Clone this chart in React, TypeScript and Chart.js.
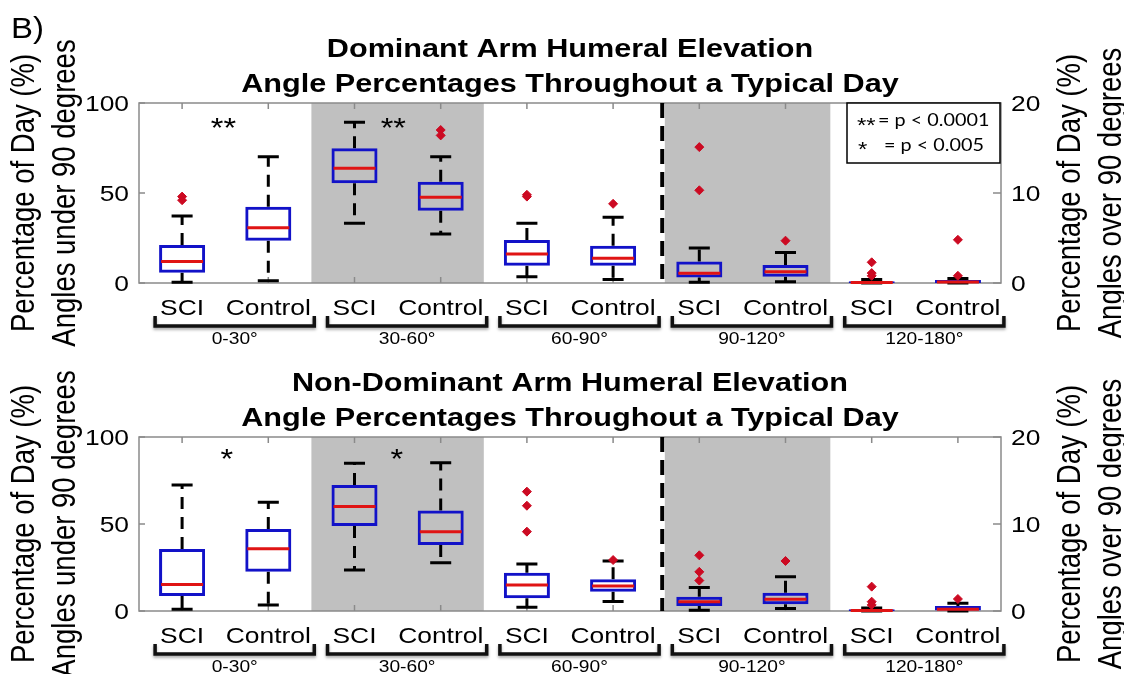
import React, { useEffect, useRef } from 'react';
import { Chart, registerables } from 'chart.js';

Chart.register(...registerables);

// ---------------- data ----------------
const groupLabels = ['0-30°', '30-60°', '60-90°', '90-120°', '120-180°'];
const boxLabels = ['SCI', 'Control', 'SCI', 'Control', 'SCI', 'Control', 'SCI', 'Control', 'SCI', 'Control'];
const leftTicks = [0, 50, 100];
const rightTicks = [0, 10, 20];
const RIGHT_START = 6; // boxes from this index use the right axis (angles over 90 degrees)

// Dominant arm (left axis 0-100 for idx 0-5, right axis 0-20 for idx 6-9)
const domLow = [0.4, 1.3, 33.2, 27.2, 3.5, 2.0, 0.07, 0.15, 0.0, 0.0];
const domQ1 = [5.7, 23.5, 55.4, 40.2, 9.6, 9.6, 0.6, 0.7, 0.0, 0.0];
const domMed = [11.9, 30.7, 63.7, 47.6, 16.1, 13.7, 1.07, 1.26, 0.05, 0.1];
const domQ3 = [21.1, 42.4, 74.8, 56.3, 23.9, 20.7, 2.4, 2.0, 0.2, 0.33];
const domHigh = [37.2, 70.2, 89.3, 70.2, 33.2, 36.5, 3.9, 3.4, 0.4, 0.5];
const domOutliers = [[48, 46], [], [], [85, 82], [49, 48], [44], [15.1, 10.3], [4.7], [2.3, 1.1, 0.8], [4.8, 0.8]];
const domSig = [{ x: 0.48, y: 89.4, t: '**' }, { x: 2.45, y: 89.4, t: '**' }];
const domTitle = ['Dominant Arm Humeral Elevation', 'Angle Percentages Throughout a Typical Day'];

// Non-dominant arm
const ndLow = [1.0, 3.4, 23.6, 27.8, 2.1, 5.4, 0.1, 0.3, 0.0, 0.0];
const ndQ1 = [8.6, 22.6, 48.9, 37.9, 7.3, 11.1, 0.57, 0.77, 0.0, 0.05];
const ndMed = [15.3, 35.8, 60.0, 45.6, 14.9, 14.4, 1.07, 1.34, 0.05, 0.2];
const ndQ3 = [35.6, 47.1, 72.4, 57.7, 22.0, 18.2, 1.65, 2.1, 0.2, 0.57];
const ndHigh = [72.4, 62.5, 84.9, 85.2, 27.0, 28.7, 2.7, 3.95, 0.35, 0.88];
const ndOutliers = [[], [], [], [], [68.6, 60.5, 45.6], [29.3], [6.4, 4.5, 3.5], [5.75], [2.8, 1.07, 0.7], [1.38]];
const ndSig = [{ x: 0.52, y: 90.8, t: '*' }, { x: 2.49, y: 90.8, t: '*' }];
const ndTitle = ['Non-Dominant Arm Humeral Elevation', 'Angle Percentages Throughout a Typical Day'];

const shadeBands = [[1.5, 3.5], [5.6, 7.52]];
const separatorAt = 5.57;
const legendLines = [['**', '= p < 0.0001'], ['*', '= p < 0.005']];
const leftTitle = ['Percentage of Day (%)', 'Angles under 90 degrees'];
const rightTitle = ['Percentage of Day (%)', 'Angles over 90 degrees'];

// ---------------- styles ----------------
const FONT = '"Liberation Sans", Arial, Helvetica, sans-serif';
const LEGEND_FONT = 'Lato, "Open Sans", sans-serif';
const SX = 1.2;
const BOX_BLUE = '#1212c8';
const MED_RED = '#e01414';
const OUT_RED = '#cc0a22';
const SHADE = '#c0c0c0';
const AXIS_GRAY = '#8a8a8a';

function drawText(ctx: CanvasRenderingContext2D, s: string, x: number, y: number, font: string,
  align: CanvasTextAlign = 'center', rot = 0, sx = SX, color = '#000') {
  ctx.save();
  ctx.translate(x, y);
  ctx.scale(sx, 1);
  if (rot) ctx.rotate(rot);
  ctx.font = font;
  ctx.fillStyle = color;
  ctx.textAlign = align;
  ctx.textBaseline = 'alphabetic';
  ctx.fillText(s, 0, 0);
  ctx.restore();
}

type PanelProps = {
  title: string[];
  low: number[]; q1: number[]; med: number[]; q3: number[]; high: number[];
  outliers: number[][];
  sig: { x: number; y: number; t: string }[];
  top: number; height: number; padTop: number; padBottom: number;
  legend: boolean; showB: boolean;
};

function Panel(props: PanelProps) {
  const ref = useRef<HTMLCanvasElement>(null);
  useEffect(() => {
    const { title, low, q1, med, q3, high, outliers, sig, padTop, padBottom, legend, showB } = props;
    const scaleLabels = boxLabels.map((l, i) => groupLabels[Math.floor(i / 2)] + ' ' + l);
    const leftBox = q1.map((v, i) => (i < RIGHT_START ? [v, q3[i]] : null));
    const rightBox = q1.map((v, i) => (i >= RIGHT_START ? [v, q3[i]] : null));
    const leftOut: { x: string; y: number }[] = [];
    const rightOut: { x: string; y: number }[] = [];
    outliers.forEach((arr, i) => arr.forEach((v) => (i < RIGHT_START ? leftOut : rightOut).push({ x: scaleLabels[i], y: v })));

    const outStyle = {
      type: 'scatter' as const,
      pointStyle: 'rectRot',
      radius: 4.5,
      backgroundColor: OUT_RED,
      borderColor: OUT_RED,
      borderWidth: 1,
      clip: false as any,
      showLine: false,
    };
    const boxStyle = {
      type: 'bar' as const,
      borderColor: BOX_BLUE,
      borderWidth: 3,
      backgroundColor: 'rgba(0,0,0,0)',
      borderSkipped: false as any,
      grouped: false,
      barPercentage: 0.534,
      categoryPercentage: 1,
    };

    const decor = {
      id: 'boxDecor',
      beforeDatasetsDraw(chart: any) {
        const { ctx, chartArea: a, scales } = chart;
        const x = scales.x, yL = scales.y, yR = scales.y2;
        const catW = x.getPixelForValue(1) - x.getPixelForValue(0);
        ctx.save();
        // shaded bands
        ctx.fillStyle = SHADE;
        shadeBands.forEach(([s, e]) => {
          const x0 = x.getPixelForValue(s), x1 = x.getPixelForValue(e);
          ctx.fillRect(x0, a.top, x1 - x0, a.bottom - a.top);
        });
        // axes box + ticks
        ctx.strokeStyle = AXIS_GRAY;
        ctx.lineWidth = 1.5;
        ctx.strokeRect(a.left, a.top, a.right - a.left, a.bottom - a.top);
        ctx.beginPath();
        for (let i = 0; i < boxLabels.length; i++) {
          const px = x.getPixelForValue(i);
          ctx.moveTo(px, a.top); ctx.lineTo(px, a.top + 6);
          ctx.moveTo(px, a.bottom); ctx.lineTo(px, a.bottom - 6);
        }
        leftTicks.forEach((v) => { const py = yL.getPixelForValue(v); ctx.moveTo(a.left, py); ctx.lineTo(a.left + 6, py); });
        rightTicks.forEach((v) => { const py = yR.getPixelForValue(v); ctx.moveTo(a.right, py); ctx.lineTo(a.right - 8, py); });
        ctx.stroke();
        // dashed separator
        const sx = x.getPixelForValue(separatorAt);
        ctx.strokeStyle = '#000';
        ctx.lineWidth = 4;
        ctx.setLineDash([15, 8]);
        ctx.beginPath(); ctx.moveTo(sx, a.top); ctx.lineTo(sx, a.bottom); ctx.stroke();
        // whiskers
        ctx.lineWidth = 3;
        ctx.setLineDash([12, 8]);
        for (let i = 0; i < boxLabels.length; i++) {
          const ys = i < RIGHT_START ? yL : yR;
          const cx = x.getPixelForValue(i);
          ctx.beginPath();
          ctx.moveTo(cx, ys.getPixelForValue(q3[i])); ctx.lineTo(cx, ys.getPixelForValue(high[i]));
          ctx.moveTo(cx, ys.getPixelForValue(q1[i])); ctx.lineTo(cx, ys.getPixelForValue(low[i]));
          ctx.stroke();
        }
        ctx.setLineDash([]);
        const capHalf = catW * 0.122;
        ctx.beginPath();
        for (let i = 0; i < boxLabels.length; i++) {
          const ys = i < RIGHT_START ? yL : yR;
          const cx = x.getPixelForValue(i);
          const yh = ys.getPixelForValue(high[i]);
          const yl = ys.getPixelForValue(low[i]);
          ctx.moveTo(cx - capHalf, yh); ctx.lineTo(cx + capHalf, yh);
          ctx.moveTo(cx - capHalf, yl); ctx.lineTo(cx + capHalf, yl);
        }
        ctx.stroke();
        ctx.restore();
      },
      afterDatasetsDraw(chart: any) {
        const { ctx, scales } = chart;
        const x = scales.x, yL = scales.y, yR = scales.y2;
        const catW = x.getPixelForValue(1) - x.getPixelForValue(0);
        const half = catW * 0.534 / 2 - 2;
        ctx.save();
        ctx.strokeStyle = MED_RED;
        ctx.lineWidth = 3;
        ctx.beginPath();
        for (let i = 0; i < boxLabels.length; i++) {
          const ys = i < RIGHT_START ? yL : yR;
          const cx = x.getPixelForValue(i);
          const ym = ys.getPixelForValue(med[i]);
          ctx.moveTo(cx - half, ym); ctx.lineTo(cx + half, ym);
        }
        ctx.stroke();
        ctx.restore();
      },
      afterDraw(chart: any) {
        const { ctx, chartArea: a, scales } = chart;
        const x = scales.x, yL = scales.y, yR = scales.y2;
        const cxMid = (a.left + a.right) / 2;
        const cyMid = (a.top + a.bottom) / 2;
        ctx.save();
        // titles
        drawText(ctx, title[0], cxMid, a.top - 46, `bold 25.5px ${FONT}`);
        drawText(ctx, title[1], cxMid, a.top - 11, `bold 25.5px ${FONT}`);
        // tick labels
        leftTicks.forEach((v) => drawText(ctx, String(v), a.left - 10, yL.getPixelForValue(v) + 8, `22px ${FONT}`, 'right'));
        rightTicks.forEach((v) => drawText(ctx, String(v), a.right + 10, yR.getPixelForValue(v) + 8, `22px ${FONT}`, 'left'));
        // axis titles
        drawText(ctx, leftTitle[0], 34, cyMid, `27.5px ${FONT}`, 'center', -Math.PI / 2);
        drawText(ctx, leftTitle[1], 75, cyMid, `27.5px ${FONT}`, 'center', -Math.PI / 2);
        drawText(ctx, rightTitle[0], 1080, cyMid, `27.5px ${FONT}`, 'center', -Math.PI / 2);
        drawText(ctx, rightTitle[1], 1121, cyMid, `27.5px ${FONT}`, 'center', -Math.PI / 2);
        // category labels
        boxLabels.forEach((l, i) => drawText(ctx, l, x.getPixelForValue(i), a.bottom + 32, `22px ${FONT}`));
        // brackets + group labels
        groupLabels.forEach((g, k) => {
          const xl = x.getPixelForValue(2 * k) - 27;
          const xr = x.getPixelForValue(2 * k + 1) + 46;
          const yb = a.bottom + 43;
          ctx.save();
          ctx.shadowColor = 'rgba(0,0,0,0.35)';
          ctx.shadowBlur = 3;
          ctx.shadowOffsetY = 2;
          ctx.strokeStyle = '#111';
          ctx.lineWidth = 3.5;
          ctx.lineJoin = 'miter';
          ctx.beginPath();
          ctx.moveTo(xl, yb - 10); ctx.lineTo(xl, yb); ctx.lineTo(xr, yb); ctx.lineTo(xr, yb - 10);
          ctx.stroke();
          ctx.restore();
          drawText(ctx, g, (xl + xr) / 2, a.bottom + 61, `16px ${FONT}`);
        });
        // significance marks
        sig.forEach((s) => drawText(ctx, s.t, x.getPixelForValue(s.x), yL.getPixelForValue(s.y) + 15, `27px ${FONT}`));
        // legend box
        if (legend) {
          const lx = a.right - 154, ly = a.top;
          ctx.fillStyle = '#fff';
          ctx.fillRect(lx, ly, 153, 60);
          ctx.strokeStyle = '#000';
          ctx.lineWidth = 1.5;
          ctx.strokeRect(lx, ly, 153, 60);
          drawText(ctx, legendLines[0][0], lx + 10, ly + 29, `20px ${FONT}`, 'left');
          drawText(ctx, legendLines[0][1], lx + 31, ly + 23, `16.5px ${LEGEND_FONT}`, 'left');
          drawText(ctx, legendLines[1][0], lx + 11, ly + 53, `20px ${FONT}`, 'left');
          drawText(ctx, legendLines[1][1], lx + 37, ly + 48, `16.5px ${LEGEND_FONT}`, 'left');
        }
        if (showB) drawText(ctx, 'B)', 11, 38, `30px ${FONT}`, 'left', 0, 1.1);
        ctx.restore();
      },
    };

    const chart = new Chart(ref.current as HTMLCanvasElement, {
      type: 'bar',
      data: {
        labels: scaleLabels,
        datasets: [
          { ...outStyle, data: leftOut, yAxisID: 'y' } as any,
          { ...outStyle, data: rightOut, yAxisID: 'y2' } as any,
          { ...boxStyle, data: leftBox, yAxisID: 'y' } as any,
          { ...boxStyle, data: rightBox, yAxisID: 'y2' } as any,
        ],
      },
      options: {
        responsive: false,
        animation: false,
        events: [],
        layout: { padding: { left: 139, right: 123, top: padTop, bottom: padBottom } },
        plugins: { legend: { display: false }, tooltip: { enabled: false }, title: { display: false } },
        scales: {
          x: { type: 'category', offset: true, display: false },
          y: { type: 'linear', min: 0, max: 100, display: false },
          y2: { type: 'linear', min: 0, max: 20, display: false, position: 'right' },
        },
      },
      plugins: [decor],
    });
    return () => chart.destroy();
  }, []);
  return (
    <canvas ref={ref} width={1124} height={props.height}
      style={{ position: 'absolute', left: 0, top: props.top, display: 'block', width: 1124, height: props.height }} />
  );
}

export default function App() {
  return (
    <div style={{ position: 'absolute', left: 0, top: 0, width: 1124, height: 674, background: '#fff', overflow: 'hidden' }}>
      <Panel title={domTitle} low={domLow} q1={domQ1} med={domMed} q3={domQ3} high={domHigh}
        outliers={domOutliers} sig={domSig} top={0} height={370} padTop={103} padBottom={87} legend={true} showB={true} />
      <Panel title={ndTitle} low={ndLow} q1={ndQ1} med={ndMed} q3={ndQ3} high={ndHigh}
        outliers={ndOutliers} sig={ndSig} top={337} height={337} padTop={100} padBottom={63} legend={false} showB={false} />
    </div>
  );
}
